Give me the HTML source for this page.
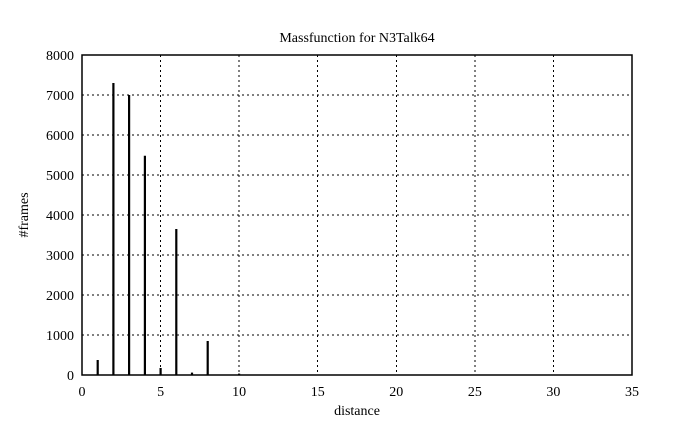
<!DOCTYPE html><html><head><style>body{margin:0;background:#fff}svg{display:block}text{font-family:"Liberation Serif",serif;font-size:14px;fill:#000}</style></head><body>
<svg width="685" height="429" xmlns="http://www.w3.org/2000/svg">
<g stroke="#000" stroke-width="1" stroke-dasharray="2,3" shape-rendering="crispEdges">
<line x1="160.6" y1="55" x2="160.6" y2="375"/><line x1="239.1" y1="55" x2="239.1" y2="375"/><line x1="317.7" y1="55" x2="317.7" y2="375"/><line x1="396.3" y1="55" x2="396.3" y2="375"/><line x1="474.9" y1="55" x2="474.9" y2="375"/><line x1="553.4" y1="55" x2="553.4" y2="375"/>
<line x1="82" y1="95" x2="632" y2="95"/><line x1="82" y1="135" x2="632" y2="135"/><line x1="82" y1="175" x2="632" y2="175"/><line x1="82" y1="215" x2="632" y2="215"/><line x1="82" y1="255" x2="632" y2="255"/><line x1="82" y1="295" x2="632" y2="295"/><line x1="82" y1="335" x2="632" y2="335"/>
</g>
<rect x="82" y="55" width="550" height="320" fill="none" stroke="#000" stroke-width="1.5"/>
<g stroke="#000" stroke-width="2.2">
<line x1="97.7" y1="375" x2="97.7" y2="360"/>
<line x1="113.4" y1="375" x2="113.4" y2="83"/>
<line x1="129.1" y1="375" x2="129.1" y2="95"/>
<line x1="144.9" y1="375" x2="144.9" y2="155.8"/>
<line x1="160.6" y1="375" x2="160.6" y2="368"/>
<line x1="176.3" y1="375" x2="176.3" y2="229"/>
<line x1="192" y1="375" x2="192" y2="372.6"/>
<line x1="207.7" y1="375" x2="207.7" y2="341"/>
<line x1="239.1" y1="375" x2="239.1" y2="373.6"/>
</g>
<g text-anchor="end">
<text x="74" y="380">0</text><text x="74" y="340">1000</text><text x="74" y="300">2000</text><text x="74" y="260">3000</text><text x="74" y="220">4000</text><text x="74" y="180">5000</text><text x="74" y="140">6000</text><text x="74" y="100">7000</text><text x="74" y="60">8000</text>
</g>
<g text-anchor="middle">
<text x="82" y="396">0</text><text x="160.6" y="396">5</text><text x="239.1" y="396">10</text><text x="317.7" y="396">15</text><text x="396.3" y="396">20</text><text x="474.9" y="396">25</text><text x="553.4" y="396">30</text><text x="632" y="396">35</text>
<text x="357" y="415">distance</text>
<text x="357" y="42">Massfunction for N3Talk64</text>
<text x="28" y="215" transform="rotate(-90 28 215)">#frames</text>
</g>
</svg></body></html>
